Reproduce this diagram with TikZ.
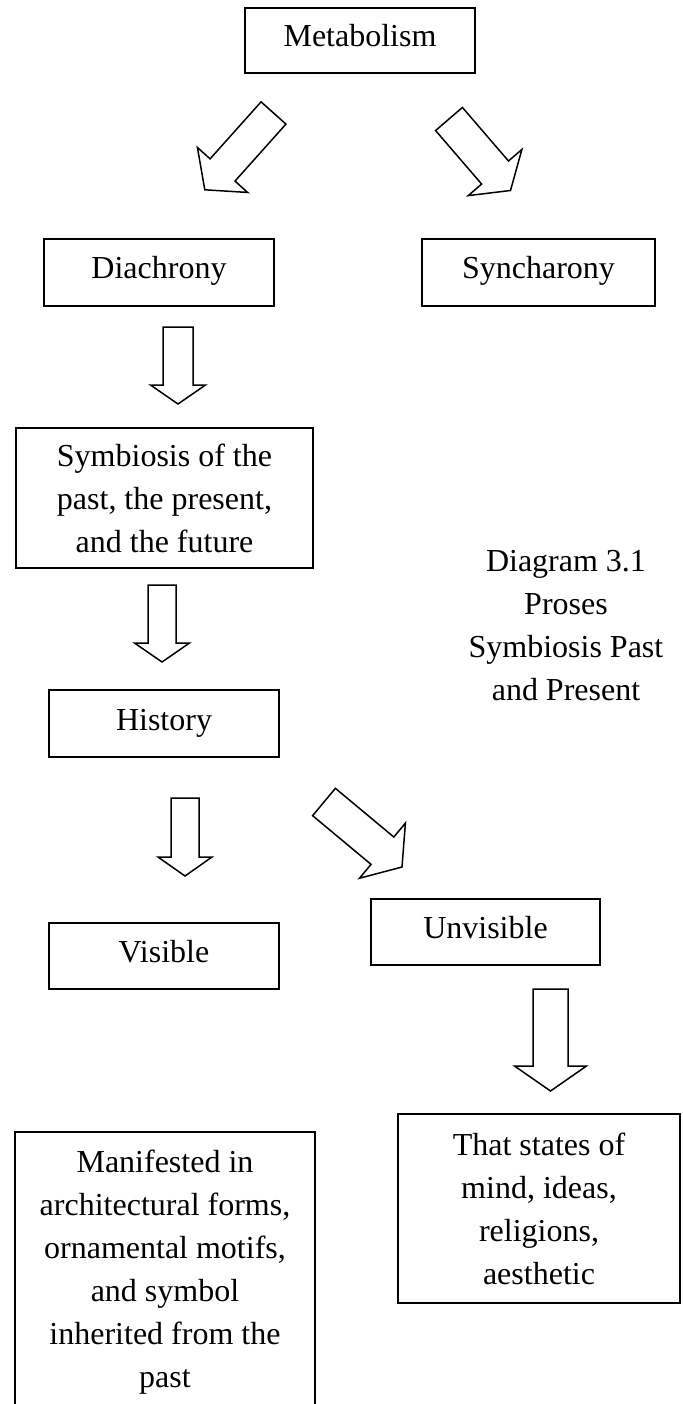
\documentclass[tikz,border=0pt]{standalone}
\usepackage{fontspec}
\setmainfont{Liberation Serif}
\usetikzlibrary{calc}
\tikzstyle{box}=[draw,line width=1.5pt,rectangle,inner sep=0pt,align=center,font=\fontsize{32}{43}\selectfont]
\tikzstyle{onebox}=[box,text height=22pt,text depth=9pt]
\tikzstyle{blockarrow}=[draw,line width=1.5pt,line join=miter,fill=white]
\tikzstyle{caption}=[align=center,font=\fontsize{32}{43}\selectfont]

% #1 tail, #2 tip, #3 half shaft, #4 half head, #5 head length
\newcommand{\blockarrow}[5]{%
  \coordinate (hb) at ($(#2)!#5!(#1)$);
  \path[blockarrow] ($(#1)!#3!90:(#2)$) -- ($(hb)!#3!-90:(#1)$) -- ($(hb)!#4!-90:(#1)$)
    -- (#2) -- ($(hb)!#4!90:(#1)$) -- ($(hb)!#3!90:(#1)$) -- ($(#1)!#3!-90:(#2)$) -- cycle;
}

\begin{document}
\begin{tikzpicture}[x=1pt,y=-1pt]

    \clip (0,0) rectangle (682,1404);

    % one-line boxes
    \foreach \x/\y/\w/\h/\name/\txt in {360/40.5/230/65/meta/Metabolism,
        159/272.5/230/67/dia/Diachrony, 538.5/272.5/233/67/syn/Syncharony,
        164/723.5/230/67/hist/History, 164/956/230/66/vis/Visible,
        485.5/932/229/66/unv/Unvisible}
        \node[onebox, minimum width=\w pt, minimum height=\h pt] (\name) at (\x,\y) {\txt};

    % boxes with several lines
    \node[box, minimum width=297pt, minimum height=140pt] (sym) at (164.5,498)
        {Symbiosis of the\\past, the present,\\and the future};
    \node[box, minimum width=300pt, minimum height=280pt] (man) at (165,1272)
        {Manifested in\\architectural forms,\\ornamental motifs,\\and symbol\\inherited from the\\past};
    \node[box, minimum width=282pt, minimum height=189pt] (that) at (539,1208.5)
        {That states of\\mind, ideas,\\religions,\\aesthetic};

    \node[caption] (cap) at (566,626) {Diagram 3.1\\Proses\\Symbiosis Past\\and Present};

    % arrow ends
    \foreach \x/\y/\name in {273.5/113/a1, 204.8/189.8/b1, 449/119/a2, 510.5/190.5/b2,
        178/327/a3, 178/404/b3, 162/585/a4, 162/662/b4, 185/798/a5, 185/876/b5,
        324/802/a6, 402/867/b6, 550.5/989/a7, 550.5/1091/b7}
        \coordinate (\name) at (\x,\y);

    \foreach \source/\dest/\sw/\hw/\hl in {a1/b1/16.7pt/33.7pt/26.6pt, a2/b2/17.7pt/35.4pt/23.7pt,
        a3/b3/15pt/27.5pt/19pt, a4/b4/14pt/27.5pt/19pt, a5/b5/14pt/27pt/19pt,
        a6/b6/17.8pt/35.9pt/25.5pt, a7/b7/17.5pt/36pt/25pt}
        {\blockarrow{\source}{\dest}{\sw}{\hw}{\hl}}

\end{tikzpicture}
\end{document}
